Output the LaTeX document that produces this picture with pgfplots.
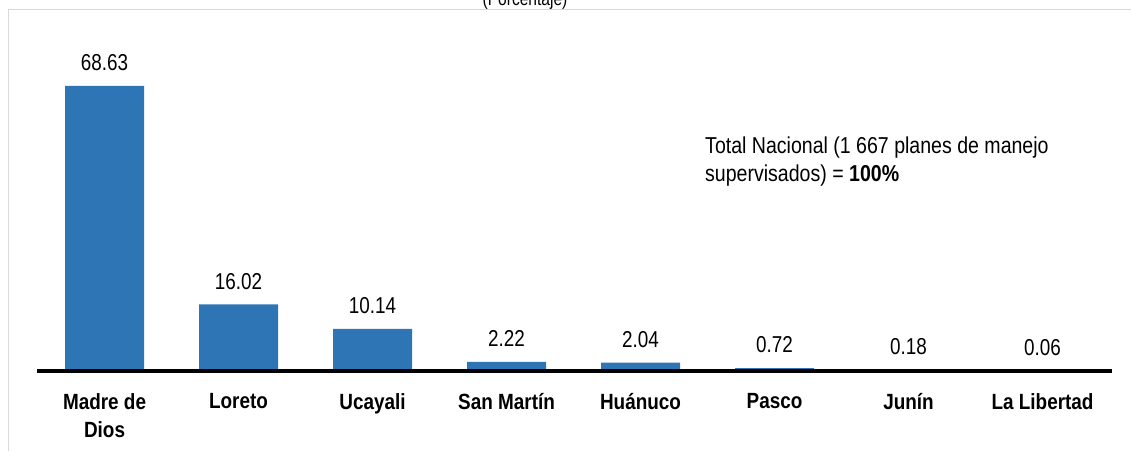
\documentclass[border=0pt]{standalone}
\usepackage{fontspec}
\setmainfont{Liberation Sans}
\newfontfamily\valfont{Liberation Sans}[FakeStretch=0.82]
\newfontfamily\notefont{Liberation Sans}[FakeStretch=0.85]
\newfontfamily\catfont{Liberation Sans}[FakeStretch=0.86]
\usepackage{pgfplots}
\usepackage{pgfplotstable}
\pgfplotsset{compat=1.18}
\definecolor{barblue}{RGB}{46,117,182}
\definecolor{framegray}{RGB}{217,217,217}
\pgfplotstableread{
x y lab
0 68.63 68.63
1 16.02 16.02
2 10.14 10.14
3 2.22 2.22
4 2.04 2.04
5 0.72 0.72
6 0.18 0.18
7 0.06 0.06
}\datatable
\pgfplotstableread[col sep=comma]{
x,z,cat
0,0,{Madre de\\Dios}
1,0,Loreto
2,0,Ucayali
3,0,San Martín
4,0,Huánuco
5,0,Pasco
6,0,Junín
7,0,La Libertad
}\cattable
\begin{document}
\begin{tikzpicture}
\path[use as bounding box] (0pt,0pt) rectangle (1131pt,451pt);
\clip (0pt,0pt) rectangle (1131pt,451pt);
\node[anchor=base, inner sep=0pt, font=\valfont\fontsize{19}{23}\selectfont] at (525pt,445pt) {(Porcentaje)};
\fill[white] (8pt,0pt) rectangle (1131pt,441pt);
\begin{axis}[
  at={(37pt,80pt)}, anchor=south west,
  x=134pt, y=4.153pt,
  xmin=-0.504, xmax=7.52, ymin=0, ymax=75,
  axis lines=none,
  clip=false,
  xtick=\empty, ytick=\empty,
]
\addplot[ybar, bar width=79pt, fill=barblue, draw=none,
  nodes near coords, point meta=explicit symbolic,
  nodes near coords style={font=\valfont\fontsize{23}{28}\selectfont, anchor=south, inner sep=0pt, yshift=15pt}]
  table[x=x, y=y, meta=lab] {\datatable};
\addplot[draw=none, mark=none,
  nodes near coords, point meta=explicit symbolic,
  nodes near coords style={font=\catfont\bfseries\fontsize{22}{28}\selectfont, align=center, anchor=north, inner sep=0pt, yshift=-22pt}]
  table[x=x, y=z, meta=cat] {\cattable};
\end{axis}
\fill[white] (9.3pt,74pt) rectangle (36.5pt,86pt);
\draw[black, line width=3.5pt] (37pt,80pt) -- (1112pt,80pt);
\draw[framegray, line width=1.5pt] (8.5pt,0pt) -- (8.5pt,441.5pt) -- (1131pt,441.5pt);
\node[anchor=base west, inner sep=0pt, font=\notefont\fontsize{23}{28}\selectfont] at (705pt,298pt) {Total Nacional (1 667 planes de manejo};
\node[anchor=base west, inner sep=0pt, font=\notefont\fontsize{23}{28}\selectfont] at (705pt,270pt) {supervisados) = \textbf{100\%}};
\end{tikzpicture}
\end{document}
